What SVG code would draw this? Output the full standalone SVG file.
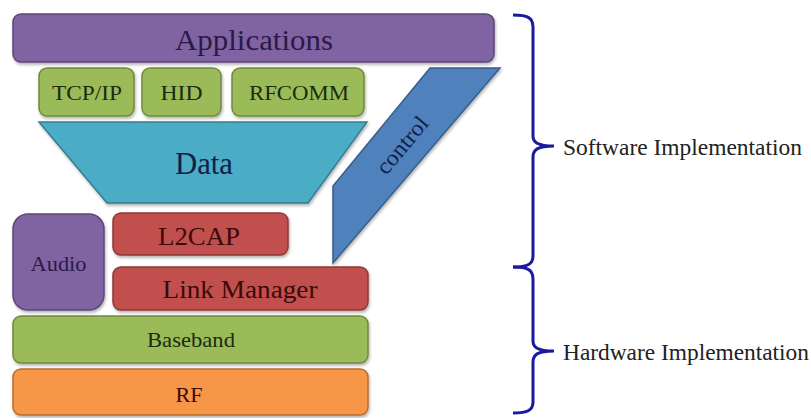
<svg xmlns="http://www.w3.org/2000/svg" width="811" height="418" viewBox="0 0 811 418" font-family="'Liberation Serif', 'DejaVu Serif', serif">
<defs>
<filter id="sh" x="-5%" y="-10%" width="110%" height="130%">
<feDropShadow dx="1" dy="2" stdDeviation="1.5" flood-color="#000" flood-opacity="0.3"/>
</filter>
</defs>
<style>
text{text-anchor:middle}
.purple{fill:#8064a2;stroke:#5c4776;stroke-width:1.5;filter:url(#sh)}
.green{fill:#9bbb59;stroke:#71893f;stroke-width:1.5;filter:url(#sh)}
.red{fill:#c0504d;stroke:#8c3836;stroke-width:1.5;filter:url(#sh)}
.orange{fill:#f79646;stroke:#b66d31;stroke-width:1.5;filter:url(#sh)}
.cyan{fill:#4bacc6;stroke:#357d91;stroke-width:1.5;filter:url(#sh)}
.blue{fill:#4f81bd;stroke:#385d8a;stroke-width:1.5;filter:url(#sh)}
.tp{fill:#2a1a45}
.tg{fill:#1c2a10}
.tr{fill:#3a0a0a}
.tb{fill:#10204a}
.brace{fill:none;stroke:#1a1a9e;stroke-width:3;stroke-linejoin:round}
.lbl{text-anchor:start;fill:#222;font-size:23.5px}
</style>
<rect width="811" height="418" fill="#fff"/>

<g id="applications">
<rect class="purple" x="13" y="14" width="481" height="48" rx="8"/>
<text class="tp" x="254" y="50" font-size="30" textLength="158" lengthAdjust="spacingAndGlyphs">Applications</text>
</g>
<g id="tcpip">
<rect class="green" x="39" y="68" width="95" height="48" rx="8"/>
<text class="tg" x="87" y="100" font-size="22" textLength="70" lengthAdjust="spacingAndGlyphs">TCP/IP</text>
</g>
<g id="hid">
<rect class="green" x="142" y="68" width="79" height="48" rx="8"/>
<text class="tg" x="181.5" y="100" font-size="22" textLength="42" lengthAdjust="spacingAndGlyphs">HID</text>
</g>
<g id="rfcomm">
<rect class="green" x="232" y="68" width="132" height="48" rx="8"/>
<text class="tg" x="299" y="100" font-size="22" textLength="100" lengthAdjust="spacingAndGlyphs">RFCOMM</text>
</g>
<g id="data">
<polygon class="cyan" points="39,122 367,122 308,203 107,203"/>
<text class="tb" x="204" y="174" font-size="31" textLength="58" lengthAdjust="spacingAndGlyphs">Data</text>
</g>
<g id="control">
<polygon class="blue" points="430,68 500,68 333,263 333,186"/>
<text class="tb" x="0" y="0" font-size="23" textLength="68" lengthAdjust="spacingAndGlyphs" transform="translate(408,150) rotate(-50)">control</text>
</g>
<g id="audio">
<rect class="purple" x="13" y="214" width="91" height="96" rx="15"/>
<text class="tp" x="58.5" y="271" font-size="22" textLength="56" lengthAdjust="spacingAndGlyphs">Audio</text>
</g>
<g id="l2cap">
<rect class="red" x="113" y="213" width="175" height="42" rx="8"/>
<text class="tr" x="199" y="245" font-size="25" textLength="82" lengthAdjust="spacingAndGlyphs">L2CAP</text>
</g>
<g id="link-manager">
<rect class="red" x="113" y="267" width="255" height="43" rx="8"/>
<text class="tr" x="240" y="298" font-size="26" textLength="155" lengthAdjust="spacingAndGlyphs">Link Manager</text>
</g>
<g id="baseband">
<rect class="green" x="13" y="316" width="355" height="47" rx="8"/>
<text class="tg" x="191" y="347" font-size="21" textLength="88" lengthAdjust="spacingAndGlyphs">Baseband</text>
</g>
<g id="rf">
<rect class="orange" x="13" y="369" width="355" height="46" rx="8"/>
<text class="tr" x="189" y="402" font-size="22" textLength="27" lengthAdjust="spacingAndGlyphs">RF</text>
</g>

<g id="braces">
<path class="brace" d="M513,15 C528,15 533,18 533,27 L533,136 C533,142 537,146 554,146 M554,146 C537,146 533,150 533,157 L533,256 C533,264 528,267 513,267"/>
<path class="brace" d="M513,267 C528,267 533,270 533,279 L533,341 C533,347 537,351 554,351 M554,351 C537,351 533,355 533,362 L533,402 C533,410 528,413 513,413"/>
</g>
<g id="software-label">
<text class="lbl" x="563" y="155" textLength="239" lengthAdjust="spacingAndGlyphs">Software Implementation</text>
</g>
<g id="hardware-label">
<text class="lbl" x="563" y="360" textLength="246" lengthAdjust="spacingAndGlyphs">Hardware Implementation</text>
</g>
</svg>
